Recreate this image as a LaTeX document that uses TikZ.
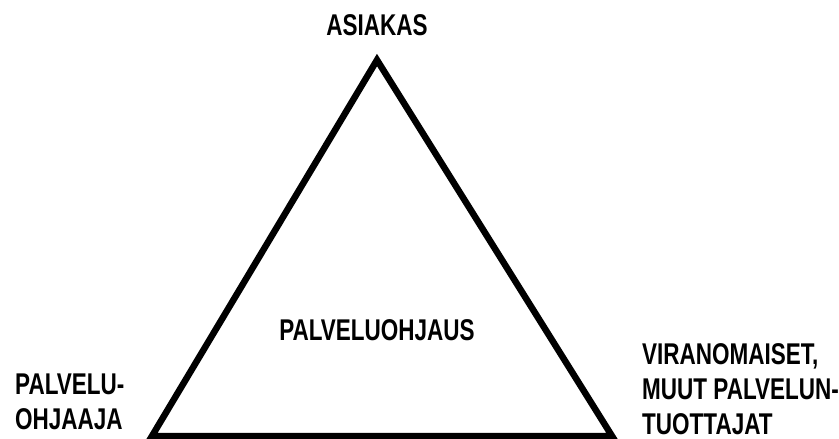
\documentclass[tikz,border=0pt]{standalone}
\usepackage{fontspec}
\newfontfamily\narrowbold[FakeStretch=0.75]{Liberation Sans Bold}
\begin{document}
\begin{tikzpicture}[x=1pt,y=-1pt,
  lbl/.style={inner sep=0pt,font=\narrowbold\fontsize{30}{35}\selectfont,text=black},
  tri/.style={line width=6.5pt,line join=miter,black}]
\useasboundingbox (0,0) rectangle (839,439);
\coordinate (apex) at (377,60);
\coordinate (bl) at (152,436);
\coordinate (br) at (612,436);
\draw[tri] (apex) -- (br) -- (bl) -- cycle;
\node[lbl,anchor=base] (asiakas) at (377,35) {ASIAKAS};
\node[lbl,anchor=base] (center) at (377,340) {PALVELUOHJAUS};
\node[lbl,anchor=north west,align=left] (left) at (15,374) {PALVELU-\\OHJAAJA};
\node[lbl,anchor=north west,align=left] (right) at (642,343) {VIRANOMAISET,\\MUUT PALVELUN-\\TUOTTAJAT};
\end{tikzpicture}
\end{document}
